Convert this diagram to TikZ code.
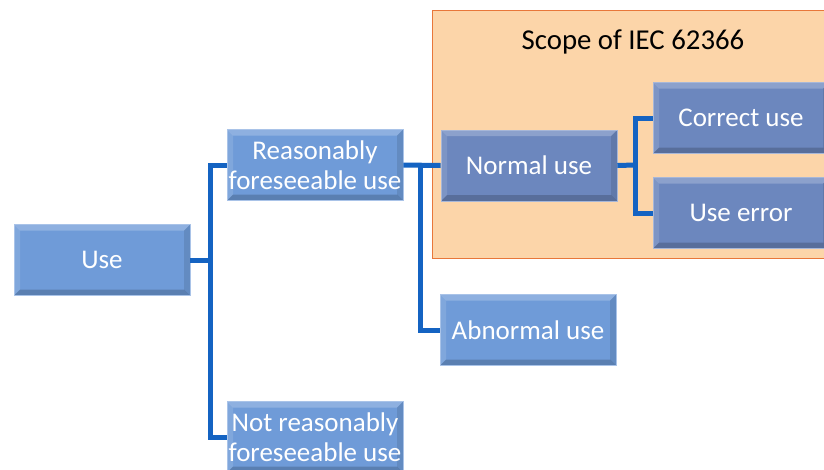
\documentclass[tikz,border=0pt]{standalone}
\usepackage{fontspec}
\setmainfont{Carlito}
\usetikzlibrary{positioning}
\usetikzlibrary{calc}
\definecolor{boxblue}{HTML}{6F9BD8}
\definecolor{boxslate}{HTML}{6C87BE}
\definecolor{linkblue}{HTML}{1463C2}
\definecolor{scopefill}{HTML}{FCD5A9}
\definecolor{scopeline}{HTML}{E8773A}
\tikzset{
 bevel/.style = {%
    path picture={
      \coordinate (nw) at (path picture bounding box.north west);
      \coordinate (ne) at (path picture bounding box.north east);
      \coordinate (sw) at (path picture bounding box.south west);
      \coordinate (se) at (path picture bounding box.south east);
      \fill[white,opacity=.22] (nw) -- (ne) -- ($(ne)+(-6pt,-6pt)$) -- ($(nw)+(6pt,-6pt)$) -- cycle;
      \fill[white,opacity=.12] (nw) -- (sw) -- ($(sw)+(6pt,6pt)$) -- ($(nw)+(6pt,-6pt)$) -- cycle;
      \fill[black,opacity=.18] (sw) -- (se) -- ($(se)+(-6pt,6pt)$) -- ($(sw)+(6pt,6pt)$) -- cycle;
      \fill[black,opacity=.10] (ne) -- (se) -- ($(se)+(-6pt,6pt)$) -- ($(ne)+(-6pt,-6pt)$) -- cycle;
    }},
 usebox/.style = {%
    shape=rectangle,
    fill=boxblue,
    draw=boxblue!60!white,
    line width=0.6pt,
    bevel,
    text=white,
    align=center,
    minimum width=176pt, minimum height=71pt,
    inner sep=0pt,
    font=\fontsize{27}{29.5}\selectfont},
 scopebox/.style = {%
    usebox,
    fill=boxslate,
    draw=boxslate!60!white},
 link/.style = {%
    draw=linkblue,
    line width=5pt,
    line join=miter},
    }

\begin{document}
\begin{tikzpicture}[x=1pt,y=-1pt]
    \clip (0,0) rectangle (824,469);
    \fill[white] (0,0) rectangle (824,469);
    % scope of the standard
    \draw[fill=scopefill, draw=scopeline, line width=1pt] (432,10) rectangle (850,258);
    \node[font=\fontsize{28.8}{31}\selectfont] (title) at (633,42) {Scope of IEC 62366};

    \node[usebox] (use)       at (102,260)   {Use};
    \node[usebox] (reason)    at (315,165)   {Reasonably\\foreseeable use};
    \node[usebox] (notreason) at (315,437)   {Not reasonably\\foreseeable use};
    \node[scopebox] (normal)  at (529,165.5) {Normal use};
    \node[usebox] (abnormal)  at (528,330)   {Abnormal use};
    \node[scopebox] (correct) at (741,118)   {Correct use};
    \node[scopebox] (error)   at (741,213)   {Use error};

    \coordinate (jone)   at (210,260);
    \coordinate (jtwo)   at (420,165);
    \coordinate (jthree) at (635,165);

    \draw[link] (use.east) -- (jone);
    \draw[link] (reason.west) -| (jone) |- (notreason.west);
    \draw[link] (reason.east) -- (normal.west);
    \draw[link] (jtwo) |- (abnormal.west);
    \draw[link] (normal.east) -- (jthree);
    \draw[link] (correct.west) -| (jthree) |- (error.west);
\end{tikzpicture}
\end{document}
